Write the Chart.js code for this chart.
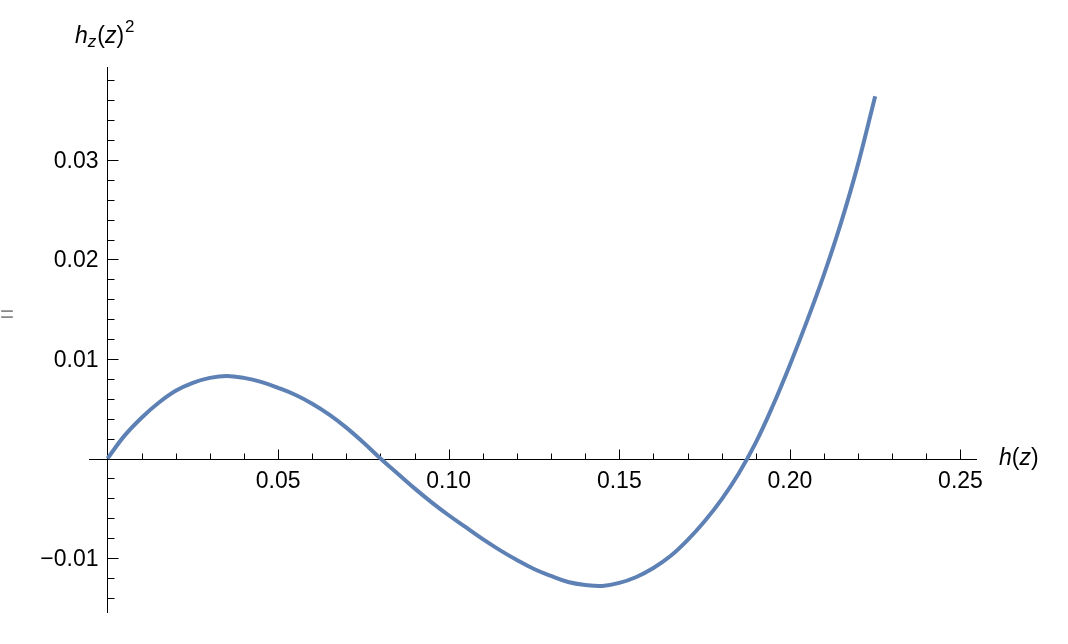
<!DOCTYPE html>
<html>
<head>
<meta charset="utf-8">
<script src="https://cdn.jsdelivr.net/npm/chart.js@4.4.0/dist/chart.umd.min.js"></script>
<style>
  html, body { margin: 0; padding: 0; background: #fff; }
  #plot { display: block; }
</style>
</head>
<body>
<canvas id="plot" width="1068" height="644"></canvas>
<script>
// values
const hValues = [
  0.000, 0.005, 0.010, 0.015, 0.020, 0.025, 0.030, 0.035, 0.040, 0.045,
  0.050, 0.055, 0.060, 0.065, 0.070, 0.075, 0.080, 0.085, 0.090, 0.095,
  0.100, 0.105, 0.110, 0.115, 0.120, 0.125, 0.130, 0.135, 0.140, 0.145,
  0.150, 0.155, 0.160, 0.165, 0.170, 0.175, 0.180, 0.185, 0.190, 0.195,
  0.200, 0.205, 0.210, 0.215, 0.220, 0.225
];
const hzSquared = [
  0.0000, 0.0023, 0.0041, 0.0056, 0.0068, 0.0076, 0.0081, 0.0083, 0.0081, 0.0077,
  0.0071, 0.0064, 0.0055, 0.0044, 0.0031, 0.0016, 0.0000, -0.0015, -0.0030, -0.0044,
  -0.0057, -0.0069, -0.0081, -0.0092, -0.0102, -0.0111, -0.0118, -0.0124, -0.0127, -0.0128,
  -0.0125, -0.0119, -0.0110, -0.0098, -0.0082, -0.0063, -0.0041, -0.0015, 0.0016, 0.0053,
  0.0094, 0.0138, 0.0185, 0.0237, 0.0296, 0.0364
];

const xTickValues = [0.05, 0.10, 0.15, 0.20, 0.25];
const xTickLabels = ["0.05", "0.10", "0.15", "0.20", "0.25"];
const yTickValues = [0.03, 0.02, 0.01, -0.01];
const yTickLabels = ["0.03", "0.02", "0.01", "\u22120.01"];

const FONT = "'Liberation Sans', Arial, sans-serif";

// Mathematica style axes crossing at the origin, ticks pointing inward
const axesPlugin = {
  id: "originAxes",
  beforeDatasetsDraw(chart) {
    const { ctx, chartArea: a, scales: { x, y } } = chart;
    const x0 = Math.round(x.getPixelForValue(0)) + 0.5;
    const y0 = Math.round(y.getPixelForValue(0)) + 0.5;

    ctx.save();
    ctx.strokeStyle = "#000";
    ctx.lineWidth = 1;
    ctx.beginPath();
    ctx.moveTo(a.left, y0); ctx.lineTo(a.right, y0);
    ctx.moveTo(x0, a.top); ctx.lineTo(x0, a.bottom);

    // x ticks every 0.01, major every 0.05
    for (let i = 1; i <= 25; i++) {
      const px = Math.round(x.getPixelForValue(i / 100)) + 0.5;
      const len = i % 5 === 0 ? 10 : 6;
      ctx.moveTo(px, y0); ctx.lineTo(px, y0 - len);
    }
    // y ticks every 0.002, major every 0.01
    for (let j = -7; j <= 19; j++) {
      if (j === 0) continue;
      const py = Math.round(y.getPixelForValue(j * 0.002)) + 0.5;
      const len = j % 5 === 0 ? 11 : 7;
      ctx.moveTo(x0, py); ctx.lineTo(x0 + len, py);
    }
    ctx.stroke();

    ctx.fillStyle = "#000";
    ctx.font = "23px " + FONT;
    ctx.textBaseline = "alphabetic";
    ctx.textAlign = "center";
    xTickValues.forEach((v, i) => {
      ctx.fillText(xTickLabels[i], x.getPixelForValue(v), y0 + 28);
    });
    ctx.textAlign = "right";
    yTickValues.forEach((v, i) => {
      ctx.fillText(yTickLabels[i], x0 - 9, y.getPixelForValue(v) + 8);
    });

    // axis labels
    ctx.textAlign = "left";
    let cx = 999;
    ctx.font = "italic 23px " + FONT;
    ctx.fillText("h", cx, 465); cx += ctx.measureText("h").width;
    ctx.font = "23px " + FONT;
    ctx.fillText("(", cx, 465); cx += ctx.measureText("(").width;
    ctx.font = "italic 23px " + FONT;
    ctx.fillText("z", cx, 465); cx += ctx.measureText("z").width;
    ctx.font = "23px " + FONT;
    ctx.fillText(")", cx, 465);

    cx = 75;
    ctx.font = "italic 23px " + FONT;
    ctx.fillText("h", cx, 43); cx += ctx.measureText("h").width;
    ctx.font = "italic 17px " + FONT;
    ctx.fillText("z", cx, 47); cx += ctx.measureText("z").width + 1;
    ctx.font = "23px " + FONT;
    ctx.fillText("(", cx, 43); cx += ctx.measureText("(").width;
    ctx.font = "italic 23px " + FONT;
    ctx.fillText("z", cx, 43); cx += ctx.measureText("z").width;
    ctx.font = "23px " + FONT;
    ctx.fillText(")", cx, 43); cx += ctx.measureText(")").width + 1;
    ctx.font = "17px " + FONT;
    ctx.fillText("2", cx, 32);

    // stray equals sign at the left edge
    ctx.fillStyle = "#888";
    ctx.font = "24px " + FONT;
    ctx.fillText("=", 0, 322);
    ctx.restore();
  }
};

const ctx = document.getElementById("plot").getContext("2d");
new Chart(ctx, {
  type: "scatter",
  data: {
    datasets: [{
      data: hValues.map((h, i) => ({ x: h, y: hzSquared[i] })),
      showLine: true,
      borderColor: "#5E81B5",
      borderWidth: 4,
      pointRadius: 0,
      tension: 0.4,
      clip: false
    }]
  },
  options: {
    responsive: false,
    animation: false,
    layout: { padding: { left: 89, right: 91, top: 67, bottom: 31 } },
    plugins: { legend: { display: false }, tooltip: { enabled: false } },
    scales: {
      x: { type: "linear", min: -0.00542, max: 0.25484, display: false },
      y: { type: "linear", min: -0.01552, max: 0.03933, display: false }
    }
  },
  plugins: [axesPlugin]
});
</script>
</body>
</html>
